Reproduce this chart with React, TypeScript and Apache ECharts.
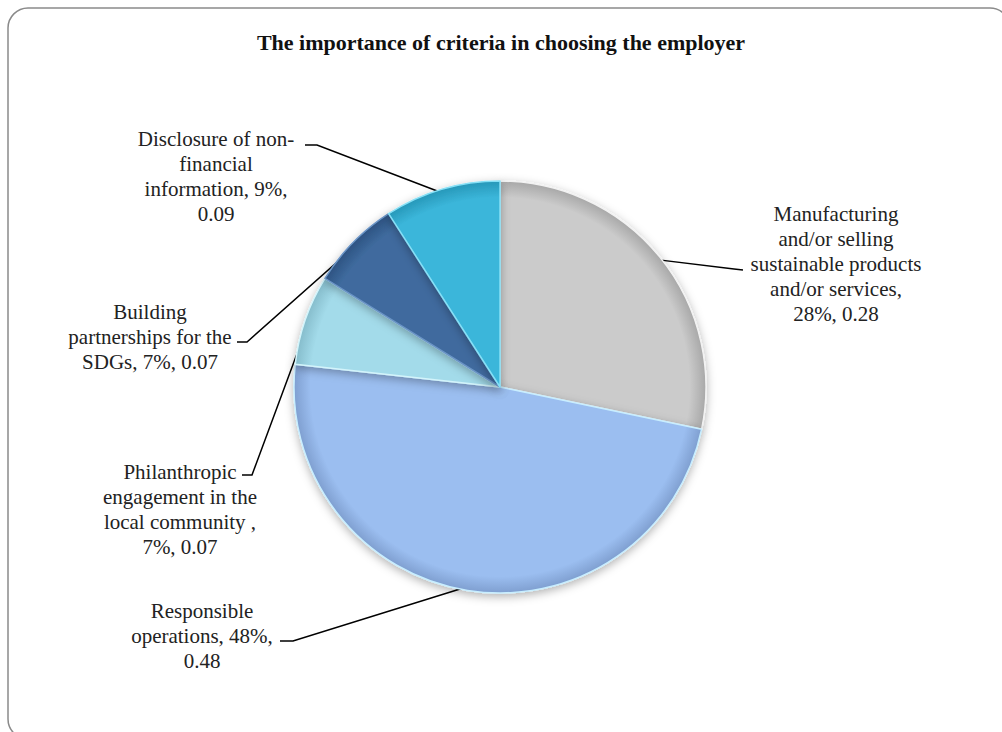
import React, { useEffect, useRef } from "react";
import * as echarts from "echarts";

const categories = [
  "Manufacturing and/or selling sustainable products and/or services",
  "Responsible operations",
  "Philanthropic engagement in the local community ",
  "Building partnerships for the SDGs",
  "Disclosure of non-financial information",
];
const values = [0.28, 0.48, 0.07, 0.07, 0.09];
// label text with manual line breaks; {p} = percent, {v} = value
const labelTemplates = [
  "Manufacturing\nand/or selling\nsustainable products\nand/or services,\n{p}%, {v}",
  "Responsible\noperations, {p}%,\n{v}",
  "Philanthropic\nengagement in the\nlocal community ,\n{p}%, {v}",
  "Building\npartnerships for the\nSDGs, {p}%, {v}",
  "Disclosure of non-\nfinancial\ninformation, {p}%,\n{v}",
];
const baseColors = ["#CBCBCB", "#9BBEF0", "#A3DBEA", "#3F6B9E", "#3BB6DA"];
const rimColors = ["#A8A8A8", "#7F9FD0", "#86BDCC", "#2D5382", "#2798B9"];
const edgeColors = ["#F2F2F2", "#C8EEFF", "#D3F4FB", "#6B94C6", "#86E0F6"];

// label placement (layout only)
const labelCenters = [
  [836, 264],
  [202, 636],
  [180, 509],
  [150, 337],
  [216, 176],
];
const lineElbows = [
  [734, 269],
  [293, 641],
  [252, 475],
  [247, 342],
  [317, 145],
];
const lineEnds = [
  [743, 270],
  [280, 641],
  [242, 475],
  [237, 342],
  [305, 145],
];

const CX = 500;
const CY = 387;
const R = 206;
const FONT = "'Liberation Serif', 'Times New Roman', serif";

export default function App() {
  const ref = useRef<HTMLDivElement>(null);
  useEffect(() => {
    if (!ref.current) return;
    const chart = echarts.init(ref.current, null, { renderer: "svg" });
    const total = values.reduce((a, b) => a + b, 0);
    const data = categories.map((name, i) => ({
      name,
      value: values[i],
      itemStyle: {
        color: {
          type: "radial",
          x: CX,
          y: CY,
          r: R,
          global: true,
          colorStops: [
            { offset: 0, color: baseColors[i] },
            { offset: 0.92, color: baseColors[i] },
            { offset: 1, color: rimColors[i] },
          ],
        },
        borderColor: edgeColors[i],
        borderWidth: 1.5,
        shadowBlur: 10,
        shadowColor: "rgba(0,0,0,0.3)",
        shadowOffsetY: 3,
      },
    }));

    const startPoint = (i: number) => {
      let cum = 0;
      for (let k = 0; k < i; k++) cum += values[k];
      const mid = ((cum + values[i] / 2) / total) * Math.PI * 2;
      return [CX + (R - 4) * Math.sin(mid), CY - (R - 4) * Math.cos(mid)];
    };

    chart.setOption({
      animation: false,
      textStyle: { fontFamily: FONT },
      title: {
        text: "The importance of criteria in choosing the employer",
        left: "center",
        top: 26,
        textStyle: {
          fontFamily: FONT,
          fontWeight: "bold",
          fontSize: 22,
          color: "#111",
        },
      },
      graphic: [
        {
          type: "rect",
          shape: { x: 8, y: 8, width: 1002, height: 731, r: 20 },
          style: { fill: "none", stroke: "#8a8a8a", lineWidth: 1.5 },
          silent: true,
        },
      ],
      series: [
        {
          type: "pie",
          center: [CX, CY],
          radius: R,
          startAngle: 90,
          clockwise: true,
          avoidLabelOverlap: false,
          data,
          label: {
            show: true,
            position: "outside",
            formatter: (p: any) =>
              labelTemplates[p.dataIndex]
                .replace("{p}", String(Math.round((values[p.dataIndex] / total) * 100)))
                .replace("{v}", String(p.value)),
            fontFamily: FONT,
            fontSize: 21,
            lineHeight: 25,
            color: "#222",
            align: "center",
          },
          labelLine: {
            show: true,
            length: 20,
            length2: 20,
            lineStyle: { color: "#000", width: 1.5 },
          },
          labelLayout: (params: any) => {
            const i = params.dataIndex;
            const p0 = startPoint(i);
            return {
              x: labelCenters[i][0],
              y: labelCenters[i][1],
              align: "center",
              verticalAlign: "middle",
              labelLinePoints: [p0, lineElbows[i], lineEnds[i]],
            };
          },
        },
      ],
    });
    return () => chart.dispose();
  }, []);
  return (
    <div
      ref={ref}
      style={{ position: "fixed", left: 0, top: 0, width: 1002, height: 732, background: "#fff" }}
    />
  );
}
